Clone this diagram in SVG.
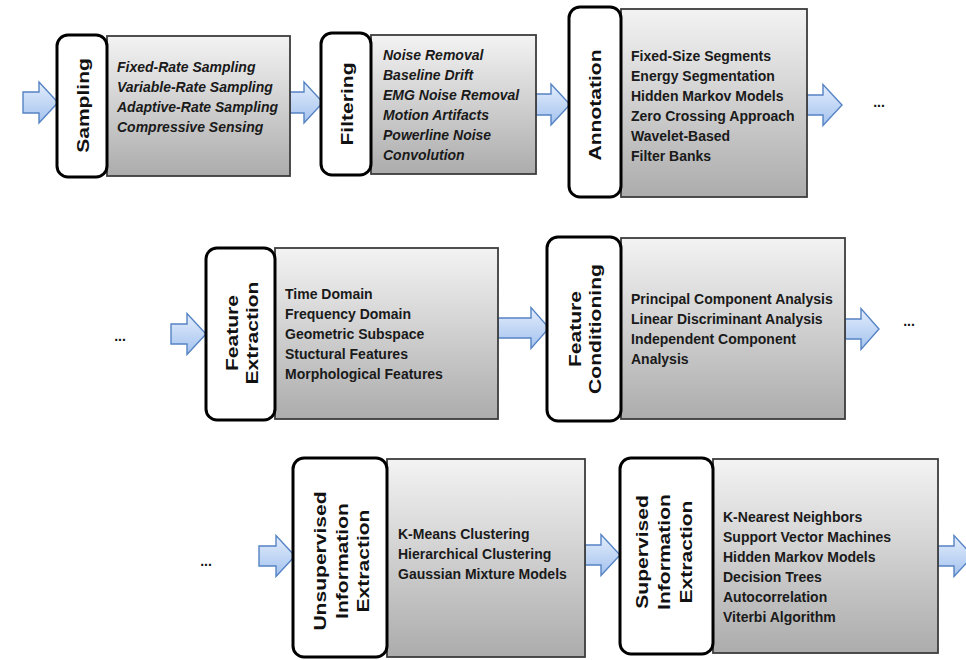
<svg xmlns="http://www.w3.org/2000/svg" width="966" height="660" viewBox="0 0 966 660">
  <defs>
    <linearGradient id="boxFill" x1="0" y1="0" x2="0" y2="1">
      <stop offset="0" stop-color="#f3f3f3"/>
      <stop offset="1" stop-color="#acacac"/>
    </linearGradient>
    <linearGradient id="arrowFill" x1="0" y1="0" x2="0" y2="1">
      <stop offset="0" stop-color="#e3edfc"/>
      <stop offset="1" stop-color="#a3c2ee"/>
    </linearGradient>
    <style>
      .box { fill: url(#boxFill); stroke: #3c3c3c; stroke-width: 1.8; }
      .tab { fill: #ffffff; stroke: #000000; stroke-width: 3; }
      .arrow { fill: url(#arrowFill); stroke: #5583c4; stroke-width: 1.4; stroke-linejoin: miter; }
      .title { font-family: "Liberation Sans", Arial, sans-serif; font-weight: bold; font-size: 17px; fill: #111111; text-anchor: middle; }
      .item { font-family: "Liberation Sans", Arial, sans-serif; font-weight: bold; font-size: 14px; fill: #1a1a1a; }
      .it { font-style: italic; }
      .dots { font-family: "Liberation Sans", Arial, sans-serif; font-weight: bold; font-size: 14px; fill: #111111; text-anchor: middle; }
    </style>
  </defs>

  <rect width="966" height="660" fill="#ffffff"/>

  <!-- block arrows between stages -->
  <g id="connectors">
    <path class="arrow" d="M23,92 H39 V82 L58,102.5 L39,123 V113 H23 Z"/>
    <path class="arrow" d="M290,92 H304 V82 L323,102.5 L304,123 V113 H290 Z"/>
    <path class="arrow" d="M536,94 H551 V84 L570,104.5 L551,125 V115 H536 Z"/>
    <path class="arrow" d="M807,95 H823 V84.5 L842,105 L823,125.5 V115 H807 Z"/>
    <path class="arrow" d="M171,324 H187 V313.5 L206,334 L187,354.5 V344 H171 Z"/>
    <path class="arrow" d="M498,318 H531 V307.5 L549,328 L531,348.5 V338 H498 Z"/>
    <path class="arrow" d="M845,319 H861 V308.5 L879,329 L861,349.5 V339 H845 Z"/>
    <path class="arrow" d="M259,546 H276 V535.5 L295,556 L276,576.5 V566 H259 Z"/>
    <path class="arrow" d="M585,545 H601 V534.5 L620,555 L601,575.5 V565 H585 Z"/>
    <path class="arrow" d="M938,546 H954 V535.5 L973,556 L954,576.5 V566 H938 Z"/>
  </g>

  <!-- continuation marks -->
  <g id="ellipses">
    <text class="dots" x="879" y="107">...</text>
    <text class="dots" x="909" y="326">...</text>
    <text class="dots" x="120" y="341">...</text>
    <text class="dots" x="206" y="566">...</text>
  </g>

  <g id="sampling">
    <rect class="box" x="107" y="36" width="183" height="140"/>
    <rect class="tab" x="57" y="35" width="50" height="142" rx="11"/>
    <text class="title" transform="translate(89,105.5) rotate(-90) scale(1.24,1)">Sampling</text>
    <text class="item it" x="117" y="72">Fixed-Rate Sampling</text>
    <text class="item it" x="117" y="92">Variable-Rate Sampling</text>
    <text class="item it" x="117" y="112">Adaptive-Rate Sampling</text>
    <text class="item it" x="117" y="132">Compressive Sensing</text>
  </g>

  <g id="filtering">
    <rect class="box" x="371" y="35" width="165" height="139"/>
    <rect class="tab" x="321" y="33" width="50" height="142" rx="11"/>
    <text class="title" transform="translate(353,104) rotate(-90) scale(1.24,1)">Filtering</text>
    <text class="item it" x="383" y="60">Noise Removal</text>
    <text class="item it" x="383" y="80">Baseline Drift</text>
    <text class="item it" x="383" y="100">EMG Noise Removal</text>
    <text class="item it" x="383" y="120">Motion Artifacts</text>
    <text class="item it" x="383" y="140">Powerline Noise</text>
    <text class="item it" x="383" y="160">Convolution</text>
  </g>

  <g id="annotation">
    <rect class="box" x="621" y="9" width="186" height="188"/>
    <rect class="tab" x="569" y="7" width="52" height="190" rx="11"/>
    <text class="title" transform="translate(601,105) rotate(-90) scale(1.24,1)">Annotation</text>
    <text class="item" x="631" y="60.5">Fixed-Size Segments</text>
    <text class="item" x="631" y="80.5">Energy Segmentation</text>
    <text class="item" x="631" y="100.5">Hidden Markov Models</text>
    <text class="item" x="631" y="120.5">Zero Crossing Approach</text>
    <text class="item" x="631" y="140.5">Wavelet-Based</text>
    <text class="item" x="631" y="160.5">Filter Banks</text>
  </g>

  <g id="feature-extraction">
    <rect class="box" x="275" y="248" width="223" height="171"/>
    <rect class="tab" x="206" y="248" width="69" height="172" rx="11"/>
    <text class="title" transform="translate(238,333) rotate(-90) scale(1.24,1)">Feature</text>
    <text class="title" transform="translate(258,333) rotate(-90) scale(1.24,1)">Extraction</text>
    <text class="item" x="285" y="299">Time Domain</text>
    <text class="item" x="285" y="319">Frequency Domain</text>
    <text class="item" x="285" y="339">Geometric Subspace</text>
    <text class="item" x="285" y="359">Stuctural Features</text>
    <text class="item" x="285" y="379">Morphological Features</text>
  </g>

  <g id="feature-conditioning">
    <rect class="box" x="621" y="238" width="224" height="181"/>
    <rect class="tab" x="547" y="237" width="74" height="184" rx="11"/>
    <text class="title" transform="translate(581,329) rotate(-90) scale(1.24,1)">Feature</text>
    <text class="title" transform="translate(601,329) rotate(-90) scale(1.24,1)">Conditioning</text>
    <text class="item" x="631" y="304">Principal Component Analysis</text>
    <text class="item" x="631" y="324">Linear Discriminant Analysis</text>
    <text class="item" x="631" y="344">Independent Component</text>
    <text class="item" x="631" y="364">Analysis</text>
  </g>

  <g id="unsupervised-extraction">
    <rect class="box" x="387" y="459" width="198" height="198"/>
    <rect class="tab" x="293" y="458" width="94" height="199" rx="11"/>
    <text class="title" transform="translate(326,561) rotate(-90) scale(1.24,1)">Unsupervised</text>
    <text class="title" transform="translate(348,561) rotate(-90) scale(1.24,1)">Information</text>
    <text class="title" transform="translate(369,561) rotate(-90) scale(1.24,1)">Extraction</text>
    <text class="item" x="398" y="539">K-Means Clustering</text>
    <text class="item" x="398" y="559">Hierarchical Clustering</text>
    <text class="item" x="398" y="579">Gaussian Mixture Models</text>
  </g>

  <g id="supervised-extraction">
    <rect class="box" x="713" y="459" width="225" height="194"/>
    <rect class="tab" x="620" y="458" width="93" height="196" rx="11"/>
    <text class="title" transform="translate(648,552) rotate(-90) scale(1.24,1)">Supervised</text>
    <text class="title" transform="translate(670,552) rotate(-90) scale(1.24,1)">Information</text>
    <text class="title" transform="translate(692,552) rotate(-90) scale(1.24,1)">Extraction</text>
    <text class="item" x="723" y="522">K-Nearest Neighbors</text>
    <text class="item" x="723" y="542">Support Vector Machines</text>
    <text class="item" x="723" y="562">Hidden Markov Models</text>
    <text class="item" x="723" y="582">Decision Trees</text>
    <text class="item" x="723" y="602">Autocorrelation</text>
    <text class="item" x="723" y="622">Viterbi Algorithm</text>
  </g>
</svg>
